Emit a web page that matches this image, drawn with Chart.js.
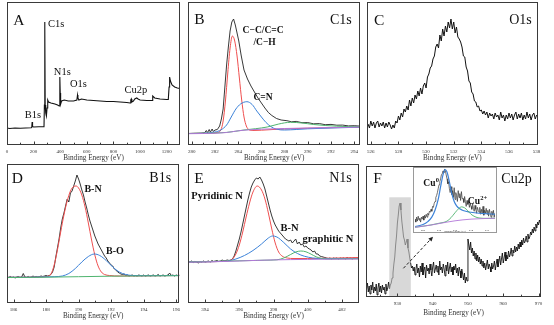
<!DOCTYPE html>
<html>
<head>
<meta charset="utf-8">
<script src="https://cdn.jsdelivr.net/npm/chart.js@4.4.1/dist/chart.umd.min.js"></script>
<style>
html, body { margin: 0; padding: 0; background: #fff; }
body { width: 554px; height: 325px; position: relative; overflow: hidden; }
.panel { position: absolute; }
</style>
</head>
<body>
<div class="panel" style="left:0;top:0;width:184px;height:162px"><canvas id="ca"></canvas></div>
<div class="panel" style="left:184px;top:0;width:179px;height:162px"><canvas id="cb"></canvas></div>
<div class="panel" style="left:363px;top:0;width:191px;height:162px"><canvas id="cc"></canvas></div>
<div class="panel" style="left:0;top:162px;width:184px;height:163px"><canvas id="cd"></canvas></div>
<div class="panel" style="left:184px;top:162px;width:179px;height:163px"><canvas id="ce"></canvas></div>
<div class="panel" style="left:363px;top:162px;width:191px;height:163px"><canvas id="cf"></canvas></div>
<div class="panel" style="left:413px;top:167px;width:84px;height:66px"><canvas id="cg"></canvas></div>
<script>
// ---- tick labels ----
var aTicks = [0, 200, 400, 600, 800, 1000, 1200];
var bTicks = [280, 282, 284, 286, 288, 290, 292, 294];
var cTicks = [526, 528, 530, 532, 534, 536, 538];
var dTicks = [186, 188, 190, 192, 194, 196];
var eTicks = [394, 396, 398, 400, 402];
var fTicks = [930, 940, 950, 960, 970];
var gTicks = [928, 930, 932, 934, 936];

// ---- A: survey ----
var surveyX = [0, 20, 60, 100, 140, 180, 186, 189, 192, 200, 240, 278, 281, 283, 285, 287, 291, 296, 301, 306, 312, 330, 360, 380, 392, 396, 398, 400, 403, 410, 430, 460, 500, 525, 530, 533, 540, 560, 600, 650, 700, 750, 800, 850, 900, 925, 930, 934, 938, 950, 960, 975, 985, 1000, 1050, 1090, 1095, 1110, 1150, 1200, 1212, 1218, 1222, 1228, 1240, 1260, 1280, 1300];
var surveyY = [17, 16.5, 17, 16.8, 17, 17.2, 17.5, 23, 18.5, 18, 18.2, 18.3, 40, 123, 118, 40, 32, 29, 37, 45, 43, 42, 41, 40, 39, 50, 68, 52, 41, 44, 45, 44, 44, 45, 50, 47, 45, 46, 45, 44.5, 44, 43.5, 43.5, 43, 42.5, 42, 45, 46, 43, 44, 46, 47, 46, 45, 44.5, 44.5, 49, 47, 46, 45.5, 45.5, 58, 68, 64, 60, 58, 57, 56.5];

// ---- B: C1s ----
var bBlackX = [279.7, 280.3, 280.8, 281.1, 281.25, 281.35, 281.5, 281.6, 281.75, 281.85, 282.0, 282.2, 282.4, 282.55, 282.7, 282.85, 283.0, 283.15, 283.3, 283.45, 283.6, 283.75, 283.9, 284.05, 284.25, 284.5, 284.8, 285.1, 285.4, 285.7, 286.0, 286.3, 286.6, 286.9, 287.3, 287.7, 288.2, 288.6, 289.0, 289.5, 290, 290.5, 291, 291.5, 292, 292.5, 293, 293.5, 294, 294.5];
var bBlackY = [11.5, 11.7, 11.8, 12.2, 14.5, 12.3, 15.5, 12.8, 16, 13.5, 15, 15.5, 19, 26, 36, 58, 80, 98, 114, 123, 126, 120, 112, 104, 90, 75, 66, 59, 53, 47, 42, 37, 32.5, 29.5, 26.5, 25, 24.3, 23.2, 23.6, 22.3, 22.4, 21.2, 21.4, 20.3, 20.6, 19.8, 19.9, 19.1, 19.3, 18.9];
var bRedX = [279.7, 281.5, 282.2, 282.5, 282.7, 282.9, 283.1, 283.3, 283.5, 283.7, 283.9, 284.1, 284.3, 284.5, 284.7, 284.9, 285.2, 286, 287, 288, 290, 292, 294.5];
var bRedY = [11.5, 11.8, 12.5, 15, 24, 44, 72, 97, 109, 104, 89, 67, 45, 28, 19, 15.5, 14.5, 14.8, 15.5, 16, 16.8, 17.3, 17.8];
var bBlueX = [279.7, 281, 282, 282.5, 283, 283.4, 283.8, 284.2, 284.75, 285.2, 285.6, 286.0, 286.4, 286.8, 287.3, 288, 289, 290, 292, 294.5];
var bBlueY = [11.5, 11.8, 13, 15, 20, 28, 36, 41, 43.3, 40.5, 34, 28, 22.5, 18.5, 15.8, 15, 15.5, 16.2, 17, 17.8];
var bGreenX = [279.7, 283, 284.5, 285.5, 286.5, 287.5, 288.5, 289.5, 290.5, 291.5, 292.5, 293.5, 294.5];
var bGreenY = [11.5, 12.6, 15, 16.3, 18, 21, 22.7, 22, 20.5, 19.5, 18.8, 18.4, 18];
var bBaseX = [279.7, 281, 282, 283, 283.5, 284, 284.5, 285, 286, 288, 290, 292, 294.5];
var bBaseY = [11.3, 11.5, 11.8, 12.5, 13.3, 14.2, 14.8, 15.2, 15.8, 16.5, 17, 17.4, 17.8];

// ---- C: O1s (0.1 eV steps from 525.8) ----
var cStart = 525.8, cStep = 0.1;
var cSpectrum = [
  21, 17, 24, 19, 23, 17, 22, 24, 18, 22,
  19, 23, 17, 22, 18, 23, 20, 16, 20, 17,
  24, 22, 29, 25, 32, 28, 36, 33, 39, 35,
  45, 39, 47, 42, 50, 46, 54, 49, 57, 51,
  59, 62, 57, 68, 71, 77, 79, 86, 89, 98,
  101, 97, 110, 104, 116, 109, 119, 113, 123, 117,
  126, 116, 123, 112, 118, 108, 106, 103, 98, 89,
  88, 78, 74, 64, 62, 53, 51, 44, 43, 38,
  39, 34, 35, 31, 34, 30, 33, 27, 32, 29,
  31, 26, 32, 28, 30, 25, 33, 27, 30, 24,
  30, 26, 32, 27, 31, 25, 30, 33, 26, 31,
  27, 32, 25, 30, 26, 33, 27, 31, 25, 30,
  32, 26, 30];

// ---- D: B1s (0.1 eV steps from 185.6) ----
var dStart = 185.6, dStep = 0.1;
var dSpectrum = [
  26, 25.5, 26.5, 25.5, 26, 25, 26, 26.5, 25.5, 26,
  29.5, 26, 25.5, 26.5, 25.5, 26, 27, 26, 26.5, 26,
  26.5, 27, 26.5, 27, 27.5, 27, 27.5, 28.5, 31, 36,
  46, 55, 64, 75, 84, 90, 97, 104, 101, 110,
  112, 117, 122, 128, 124, 119, 113, 108, 101, 95,
  88, 82, 77, 72, 67, 63, 59, 56, 53, 50,
  47, 45, 42, 40, 38, 37, 34, 33, 31, 30,
  29, 28.5, 29, 27.5, 28, 27, 27.5, 28, 27, 27.5,
  27, 28, 27.5, 27, 28, 27, 27.5, 28, 27, 27.5,
  28, 27, 27.5, 28.5, 27, 27.5, 28, 27, 27.5, 28,
  30, 27.5, 28, 27, 28, 27.5, 28];
var dRedX = [185.6, 187.5, 188.0, 188.3, 188.5, 188.7, 188.9, 189.1, 189.3, 189.5, 189.7, 189.85, 190.0, 190.2, 190.4, 190.6, 190.8, 191.0, 191.2, 191.4, 191.6, 191.9, 192.5, 196.2];
var dRedY = [25.7, 26, 26.5, 29, 38, 53, 71, 88, 102, 112, 116.5, 117, 115, 108, 96, 80, 63, 48, 37, 31, 28.5, 27.5, 27, 27.5];
var dBlueX = [185.6, 188.5, 189.0, 189.4, 189.8, 190.2, 190.6, 190.97, 191.3, 191.7, 192.1, 192.5, 192.9, 193.3, 194, 196.2];
var dBlueY = [25.7, 26.3, 27, 29.5, 34.5, 41, 46.5, 49, 47.5, 42.5, 36, 31, 28.5, 27.5, 27.3, 27.5];
var dBaseX = [185.6, 188, 190, 192, 194, 196.2];
var dBaseY = [25.5, 25.8, 26.3, 26.8, 27.1, 27.3];

// ---- E: N1s (0.1 eV steps from 393.0) ----
var eStart = 393.0, eStep = 0.1;
var eSpectrum = [
  41.5, 41, 42, 40.5, 41.5, 41, 40, 41.5, 41, 42,
  41, 41.5, 42, 41, 42.5, 41.5, 42, 42.5, 41.5, 42,
  43, 42, 42.5, 43, 42.5, 43, 44, 47, 52, 58,
  64, 71, 79, 87, 95, 103, 110, 116, 120, 123,
  125, 124, 126, 123, 119, 114, 107, 100, 93, 87,
  82, 78, 75, 72, 70, 68, 66, 64, 63, 62,
  63, 60, 62, 64, 59, 61, 58, 59, 56, 57,
  55, 54, 53, 51, 52, 49, 49, 47, 46.5, 46,
  45.5, 45, 44.5, 45, 44, 45, 44.5, 45, 44, 45,
  44.5, 45, 44, 45.5, 44.5, 45, 44, 45, 44.5, 45,
  44.5];
var eRedX = [393, 395.3, 395.6, 395.8, 396.0, 396.2, 396.4, 396.6, 396.8, 397.05, 397.3, 397.5, 397.7, 397.9, 398.1, 398.3, 398.5, 398.8, 399.2, 400, 403];
var eRedY = [41, 42, 44, 49, 58, 71, 86, 100, 111, 117, 113, 104, 90, 74, 60, 51, 47, 45, 44.5, 44.5, 45.5];
var eBlueX = [393, 395.3, 395.8, 396.3, 396.8, 397.3, 397.7, 397.95, 398.2, 398.6, 399.0, 399.4, 399.8, 400.3, 401, 403];
var eBlueY = [41, 42, 44, 47.5, 52.5, 59, 65, 67, 66, 60.5, 54, 49.5, 46.8, 45, 44.3, 44.5];
var eGreenX = [393, 397.5, 398.2, 398.6, 399.0, 399.3, 399.6, 399.9, 400.2, 400.5, 400.8, 401.2, 403];
var eGreenY = [41, 42.8, 43.2, 45, 48.5, 51, 52, 51.2, 48.8, 46.2, 44.6, 44, 44.3];
var eBaseX = [393, 395, 396, 397, 398, 399, 400, 401, 403];
var eBaseY = [40.8, 41.5, 42, 42.6, 43.1, 43.4, 43.6, 43.8, 44];

// ---- F: Cu2p (0.25 eV steps from 921.25) ----
var fStart = 921.25, fStep = 0.25;
var fSpectrum = [
  8, 14, 5, 11, 3, 12, 7, 15, 4, 10,
  6, 13, 2, 9, 14, 5, 11, 4, 12, 7,
  10, 3, 13, 6, 9, 15, 8, 12, 14, 19,
  24, 33, 40, 52, 61, 74, 82, 91, 94, 87,
  76, 68, 60, 57, 52, 55, 58, 49, 45, 39,
  34, 29, 31, 26, 30, 22, 28, 33, 24, 29,
  20, 31, 25, 34, 22, 27, 30, 19, 32, 26,
  29, 23, 33, 27, 21, 30, 35, 24, 28, 32,
  25, 31, 22, 36, 27, 30, 24, 33, 28, 21,
  32, 26, 35, 23, 29, 34, 25, 30, 22, 31,
  27, 33, 24, 29, 21, 30, 26, 19, 28, 23,
  17, 24, 14, 20, 16, 58, 52, 47, 55, 44,
  49, 41, 46, 38, 44, 36, 42, 35, 40, 33,
  38, 31, 36, 29, 34, 27, 32, 37, 28, 33,
  30, 25, 34, 28, 31, 36, 27, 33, 38, 30,
  35, 41, 32, 38, 44, 34, 39, 45, 36, 42,
  38, 46, 40, 43, 49, 41, 47, 44, 51, 45,
  50, 46, 53, 48, 55, 50, 57, 52, 59, 54,
  56, 61, 55, 63, 58, 60, 65, 62, 68, 64,
  70, 66, 73, 69, 75, 72, 77, 74];
var fShadeFrom = 927.7, fShadeTo = 933.8, fShadeTop = 99.7;
var fArrowFrom = [931.7, 28.7], fArrowTo = [940.1, 60.3];

// ---- F inset: Cu2p3/2 (0.1 eV steps from 927.0) ----
var gStart = 927.0, gStep = 0.1;
var gSpectrum = [
  9, 6, 11, 7, 12, 8, 10, 6, 11, 9,
  12, 8, 13, 10, 14, 11, 15, 13, 17, 16,
  19, 17, 22, 21, 25, 27, 31, 33, 36, 40,
  44, 47, 50, 54, 55, 58, 56, 60, 58, 54,
  50, 45, 47, 40, 36, 42, 34, 38, 31, 41,
  29, 36, 33, 27, 38, 31, 35, 28, 37, 30,
  30, 26, 32, 27, 22, 28, 24, 27, 21, 25,
  22, 19, 25, 20, 17, 23, 19, 15, 21, 18,
  16, 21, 14, 19, 15, 22, 13, 18, 15, 20,
  14, 18, 12, 19, 15, 11, 17, 13, 18, 11,
  15];
var gBlueX = [927, 928, 928.6, 929.1, 929.5, 929.9, 930.2, 930.5, 930.75, 931.0, 931.3, 931.6, 931.9, 932.2, 932.6, 933.0, 934, 935, 936, 937];
var gBlueY = [1.5, 3.5, 6.5, 11, 18, 29, 42, 54, 59.5, 57, 47, 35, 27, 22.5, 19.5, 17.8, 16, 15, 14.5, 14];
var gGreenX = [927, 929, 930, 931, 931.5, 932, 932.5, 932.8, 933.2, 933.6, 934.0, 934.5, 935, 936, 937];
var gGreenY = [0.7, 3.1, 4.8, 7, 10.5, 15.5, 20, 21.5, 20.5, 17.5, 14, 11.5, 10.2, 9.8, 10];
var gBaseX = [927, 928, 929, 930, 931, 932, 933, 934, 935, 936, 937];
var gBaseY = [0.7, 1.8, 3, 4.5, 6, 7.3, 8.3, 9, 9.4, 9.7, 9.9];

var SERIF = "'Liberation Serif', 'DejaVu Serif', serif";
var RED = '#ef4f4f', BLUE = '#3c82d8', GREEN = '#4fb46f', PURPLE = '#b277d8', INK = '#111';

function pairs(xs, ys) { return xs.map(function (x, i) { return { x: x, y: ys[i] }; }); }
function grid(start, step, ys) { return ys.map(function (y, i) { return { x: +(start + i * step).toFixed(3), y: y }; }); }
function isMajor(v, list) { return list.some(function (l) { return Math.abs(l - v) < 1e-6; }); }

function line(data, color, width, smooth) {
  return {
    data: data, borderColor: color, borderWidth: width, pointRadius: 0, fill: false,
    tension: 0, cubicInterpolationMode: smooth ? 'monotone' : 'default'
  };
}

// frame + inward tick marks
function framePlugin(majors, color) {
  return {
    id: 'frame',
    afterDraw: function (chart) {
      var ctx = chart.ctx, a = chart.chartArea, x = chart.scales.x;
      ctx.save();
      ctx.strokeStyle = color; ctx.lineWidth = 1;
      var l = Math.round(a.left) + 0.5, t = Math.round(a.top) + 0.5;
      var r = Math.round(a.right) - 0.5, b = Math.round(a.bottom) - 0.5;
      ctx.strokeRect(l, t, r - l, b - t);
      x.ticks.forEach(function (tk) {
        var px = Math.round(x.getPixelForValue(tk.value)) + 0.5;
        if (px < l + 1 || px > r - 1) return;
        var len = isMajor(tk.value, majors) ? 3 : 1.8;
        ctx.beginPath(); ctx.moveTo(px, b); ctx.lineTo(px, b - len); ctx.stroke();
      });
      ctx.restore();
    }
  };
}

// text labels: data-anchored (at) or offset from plot corners
function notesPlugin(items) {
  return {
    id: 'notes',
    afterDatasetsDraw: function (chart) {
      var ctx = chart.ctx, a = chart.chartArea, sx = chart.scales.x, sy = chart.scales.y;
      ctx.save();
      ctx.fillStyle = INK; ctx.textBaseline = 'alphabetic';
      items.forEach(function (n) {
        ctx.font = n.font;
        var px, py;
        if (n.at) { px = sx.getPixelForValue(n.at[0]); py = sy.getPixelForValue(n.at[1]); ctx.textAlign = 'left'; }
        else if (n.left != null) { px = a.left + n.left; py = a.top + n.top; ctx.textAlign = 'left'; }
        else { px = a.right - n.right; py = a.top + n.top; ctx.textAlign = 'right'; }
        ctx.fillText(n.text, px, py);
        if (n.sup) {
          var w = ctx.measureText(n.text).width;
          ctx.font = n.supFont; ctx.textAlign = 'left';
          ctx.fillText(n.sup, px + w + 0.3, py - n.supRise);
        }
      });
      ctx.restore();
    }
  };
}

function panel(id, cfg) {
  return new Chart(document.getElementById(id), {
    type: 'line',
    data: { datasets: cfg.sets },
    options: {
      responsive: true, maintainAspectRatio: false, animation: false,
      layout: { padding: cfg.pad },
      plugins: { legend: { display: false }, tooltip: { enabled: false } },
      scales: {
        x: {
          type: 'linear', min: cfg.xmin, max: cfg.xmax,
          grid: { display: false, drawTicks: false }, border: { display: false },
          afterFit: function (s) { s.height = cfg.axisH; },
          ticks: {
            stepSize: cfg.minor, includeBounds: false, autoSkip: false, maxRotation: 0, minRotation: 0,
            padding: cfg.tickPad, color: '#333', font: { family: SERIF, size: cfg.tickSize || 5 },
            callback: function (v) { return isMajor(v, cfg.majors) ? String(Math.round(v)) : ''; }
          },
          title: {
            display: true, text: cfg.xTitle || 'Binding Energy (eV)', padding: 0, color: '#333',
            font: { family: SERIF, size: cfg.titleSize || 7.2 }
          }
        },
        y: { display: false, min: 0, max: cfg.ymax }
      }
    },
    plugins: [framePlugin(cfg.majors, cfg.frame || '#3a3a3a'), notesPlugin(cfg.notes)].concat(cfg.extra || [])
  });
}

var LETTER = '15.5px ' + SERIF, ELEM = '14px ' + SERIF;

// A
panel('ca', {
  xmin: 0, xmax: 1300, minor: 100, majors: aTicks, ymax: 143,
  pad: { left: 7, top: 2, right: 4, bottom: 0 }, axisH: 17, tickPad: 4,
  sets: [line(pairs(surveyX, surveyY), INK, 1.1, false)],
  notes: [
    { text: 'A', left: 6.3, top: 23, font: LETTER },
    { text: 'C1s', at: [309, 117.7], font: '10.5px ' + SERIF },
    { text: 'N1s', at: [352, 70], font: '10.5px ' + SERIF },
    { text: 'O1s', at: [473, 57.7], font: '10.5px ' + SERIF },
    { text: 'Cu2p', at: [883, 51.7], font: '10.5px ' + SERIF },
    { text: 'B1s', at: [134, 26.7], font: '10.5px ' + SERIF }
  ]
});

// B
panel('cb', {
  xmin: 279.7, xmax: 294.5, minor: 1, majors: bTicks, ymax: 143,
  pad: { left: 3, top: 2, right: 3, bottom: 0 }, axisH: 17, tickPad: 4,
  sets: [
    line(pairs(bBaseX, bBaseY), PURPLE, 1, true),
    line(pairs(bGreenX, bGreenY), GREEN, 1, true),
    line(pairs(bBlueX, bBlueY), BLUE, 1, true),
    line(pairs(bRedX, bRedY), RED, 1, true),
    line(pairs(bBlackX, bBlackY), '#222', 0.9, false)
  ],
  notes: [
    { text: 'B', left: 6, top: 22.3, font: LETTER },
    { text: 'C1s', right: 8.3, top: 22, font: ELEM },
    { text: 'C\u2212C/C=C', at: [284.38, 112], font: 'bold 9.5px ' + SERIF },
    { text: '/C\u2212H', at: [285.31, 100], font: 'bold 9.5px ' + SERIF },
    { text: 'C=N', at: [285.31, 45], font: 'bold 9.5px ' + SERIF }
  ]
});

// C
panel('cc', {
  xmin: 525.7, xmax: 538.1, minor: 1, majors: cTicks, ymax: 143,
  pad: { left: 3, top: 2, right: 16, bottom: 0 }, axisH: 17, tickPad: 4,
  xTitle: 'Bindng Energy (eV)',
  sets: [line(grid(cStart, cStep, cSpectrum), INK, 1, false)],
  notes: [
    { text: 'C', left: 7.3, top: 23, font: LETTER },
    { text: 'O1s', right: 6.3, top: 22, font: ELEM }
  ]
});

// D
panel('cd', {
  xmin: 185.6, xmax: 196.2, minor: 1, majors: dTicks, ymax: 139,
  pad: { left: 7, top: 2, right: 4, bottom: 4.5 }, axisH: 17.5, tickPad: 4,
  sets: [
    line(pairs(dBaseX, dBaseY), GREEN, 1, true),
    line(pairs(dBlueX, dBlueY), BLUE, 1, true),
    line(pairs(dRedX, dRedY), RED, 1, true),
    line(grid(dStart, dStep, dSpectrum), '#222', 0.9, false)
  ],
  notes: [
    { text: 'D', left: 4.7, top: 18.7, font: LETTER },
    { text: 'B1s', right: 8.3, top: 17.7, font: ELEM },
    { text: 'B-N', at: [190.36, 110.7], font: 'bold 10px ' + SERIF },
    { text: 'B-O', at: [191.69, 49], font: 'bold 10px ' + SERIF }
  ]
});

// E
panel('ce', {
  xmin: 393, xmax: 403, minor: 1, majors: eTicks, ymax: 139,
  pad: { left: 3, top: 2, right: 4, bottom: 4.5 }, axisH: 17.5, tickPad: 4,
  sets: [
    line(pairs(eBaseX, eBaseY), PURPLE, 1, true),
    line(pairs(eGreenX, eGreenY), GREEN, 1, true),
    line(pairs(eBlueX, eBlueY), BLUE, 1, true),
    line(pairs(eRedX, eRedY), RED, 1, true),
    line(grid(eStart, eStep, eSpectrum), '#222', 0.9, false)
  ],
  notes: [
    { text: 'E', left: 6.3, top: 18.7, font: LETTER },
    { text: 'N1s', right: 7.3, top: 18, font: ELEM },
    { text: 'Pyridinic N', at: [393.19, 103.7], font: 'bold 10.5px ' + SERIF },
    { text: 'B-N', at: [398.41, 72.3], font: 'bold 10.5px ' + SERIF },
    { text: 'graphitic N', at: [399.69, 61.3], font: 'bold 10.5px ' + SERIF }
  ]
});

// F: shaded window and dashed pointer to the inset
var fExtra = {
  id: 'fextra',
  beforeDatasetsDraw: function (chart) {
    var ctx = chart.ctx, x = chart.scales.x, y = chart.scales.y;
    var l = x.getPixelForValue(fShadeFrom), r = x.getPixelForValue(fShadeTo);
    var t = y.getPixelForValue(fShadeTop), b = y.getPixelForValue(0);
    ctx.save(); ctx.fillStyle = '#d8d8d8'; ctx.fillRect(l, t, r - l, b - t); ctx.restore();
  },
  afterDatasetsDraw: function (chart) {
    var ctx = chart.ctx, x = chart.scales.x, y = chart.scales.y;
    var x0 = x.getPixelForValue(fArrowFrom[0]), y0 = y.getPixelForValue(fArrowFrom[1]);
    var x1 = x.getPixelForValue(fArrowTo[0]), y1 = y.getPixelForValue(fArrowTo[1]);
    var ang = Math.atan2(y1 - y0, x1 - x0);
    ctx.save();
    ctx.strokeStyle = '#222'; ctx.fillStyle = '#222'; ctx.lineWidth = 1;
    ctx.setLineDash([3, 2]);
    ctx.beginPath(); ctx.moveTo(x0, y0); ctx.lineTo(x1 - 3 * Math.cos(ang), y1 - 3 * Math.sin(ang)); ctx.stroke();
    ctx.setLineDash([]);
    ctx.beginPath();
    ctx.moveTo(x1, y1);
    ctx.lineTo(x1 - 5 * Math.cos(ang - 0.45), y1 - 5 * Math.sin(ang - 0.45));
    ctx.lineTo(x1 - 5 * Math.cos(ang + 0.45), y1 - 5 * Math.sin(ang + 0.45));
    ctx.closePath(); ctx.fill();
    ctx.restore();
  }
};
var fLine = line(grid(fStart, fStep, fSpectrum), INK, 0.9, false);
fLine.segment = {
  borderColor: function (c) {
    var inA = c.p0.parsed.x >= fShadeFrom && c.p1.parsed.x <= fShadeTo;
    return inA ? '#808080' : INK;
  }
};
panel('cf', {
  xmin: 921.1, xmax: 970.7, minor: 5, majors: fTicks, ymax: 131,
  pad: { left: 3, top: 4, right: 13, bottom: 7.2 }, axisH: 20.8, tickPad: 4,
  sets: [fLine],
  extra: [fExtra],
  notes: [
    { text: 'F', left: 7.3, top: 17.3, font: LETTER },
    { text: 'Cu2p', right: 9.3, top: 17, font: ELEM }
  ]
});

// F inset
var insetBox = {
  id: 'insetbox',
  beforeDraw: function (chart) {
    var ctx = chart.ctx;
    ctx.save(); ctx.fillStyle = '#fff'; ctx.fillRect(0, 0, chart.width, chart.height); ctx.restore();
  },
  afterDraw: function (chart) {
    var ctx = chart.ctx;
    ctx.save(); ctx.strokeStyle = '#9a9a9a'; ctx.lineWidth = 1;
    ctx.strokeRect(0.5, 0.5, chart.width - 1, chart.height - 1); ctx.restore();
  }
};
panel('cg', {
  xmin: 927, xmax: 937, minor: 1, majors: gTicks, ymax: 61,
  pad: { left: 2, top: 1, right: 2, bottom: 0 }, axisH: 5, tickPad: 0.3,
  tickSize: 2.6, titleSize: 2.6, frame: 'rgba(0,0,0,0)',
  sets: [
    line(pairs(gBaseX, gBaseY), PURPLE, 0.9, true),
    line(pairs(gGreenX, gGreenY), GREEN, 0.9, true),
    line(pairs(gBlueX, gBlueY), BLUE, 1.2, true),
    line(grid(gStart, gStep, gSpectrum), '#333', 0.7, false)
  ],
  extra: [insetBox],
  notes: [
    { text: 'Cu', sup: '0', at: [928.04, 43], font: 'bold 9.5px ' + SERIF, supFont: 'bold 6.5px ' + SERIF, supRise: 4 },
    { text: 'Cu', sup: '2+', at: [933.6, 24], font: 'bold 9.5px ' + SERIF, supFont: 'bold 6.5px ' + SERIF, supRise: 4 }
  ]
});
</script>
</body>
</html>
